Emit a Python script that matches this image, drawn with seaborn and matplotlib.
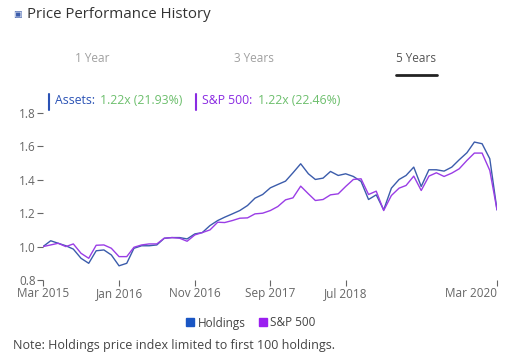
import pandas as pd
import seaborn as sns
import matplotlib.pyplot as plt
from matplotlib.lines import Line2D

# monthly index values, Mar 2015 -> Mar 2020
months = pd.date_range('2015-03-01', '2020-03-01', freq='MS')
holdings = [1.00, 1.035, 1.02, 1.005, 0.985, 0.93, 0.90, 0.975, 0.98, 0.95,
            0.885, 0.90, 0.99, 1.005, 1.005, 1.01, 1.05, 1.054, 1.054, 1.046,
            1.076, 1.084, 1.126, 1.156, 1.176, 1.196, 1.216, 1.246, 1.29, 1.312,
            1.352, 1.372, 1.392, 1.442, 1.496, 1.436, 1.402, 1.41, 1.45, 1.426,
            1.436, 1.42, 1.39, 1.282, 1.31, 1.22, 1.35, 1.402, 1.426, 1.476,
            1.36, 1.46, 1.46, 1.452, 1.476, 1.52, 1.562, 1.626, 1.616, 1.526,
            1.22]
sp500 = [1.00, 1.01, 1.02, 1.00, 1.016, 0.96, 0.93, 1.008, 1.01, 0.99,
         0.94, 0.94, 0.996, 1.01, 1.016, 1.016, 1.05, 1.054, 1.05, 1.032,
         1.07, 1.084, 1.10, 1.146, 1.144, 1.156, 1.17, 1.172, 1.196, 1.20,
         1.216, 1.24, 1.28, 1.292, 1.362, 1.316, 1.276, 1.282, 1.31, 1.316,
         1.36, 1.402, 1.406, 1.312, 1.332, 1.216, 1.306, 1.35, 1.366, 1.422,
         1.336, 1.422, 1.442, 1.42, 1.44, 1.466, 1.516, 1.56, 1.56, 1.456,
         1.22]
tick_dates = ['2015-03-01', '2016-01-01', '2016-11-01', '2017-09-01', '2018-07-01', '2020-03-01']
tick_labels = ['Mar 2015', 'Jan 2016', 'Nov 2016', 'Sep 2017', 'Jul 2018', 'Mar 2020']
tabs = ['1 Year', '3 Years', '5 Years']

df = pd.DataFrame({'date': list(months) * 2,
                   'value': holdings + sp500,
                   'series': ['Holdings'] * len(months) + ['S&P 500'] * len(months)})

sns.set_style('white')
plt.rcParams['font.family'] = ['Open Sans', 'DejaVu Sans']

line_colors = {'Holdings': '#3b5cab', 'S&P 500': '#9a3de6'}
grey = '#666666'

fig = plt.figure(figsize=(5.14, 3.63), dpi=100)
ax = fig.add_axes([43 / 514, 1 - 280 / 363, 454 / 514, 167 / 363])
sns.lineplot(data=df, x='date', y='value', hue='series', palette=line_colors,
             linewidth=1.0, legend=False, ax=ax)

ax.set_ylim(0.8, 1.8)
ax.set_yticks([0.8, 1.0, 1.2, 1.4, 1.6, 1.8])
ax.set_yticklabels(['0.8', '1.0', '1.2', '1.4', '1.6', '1.8'])
ax.set_xlim(months[0], months[-1])
ax.set_xticks(pd.to_datetime(tick_dates))
ax.set_xticklabels(tick_labels)
ax.get_xticklabels()[-1].set_horizontalalignment('right')
ax.set_xlabel('')
ax.set_ylabel('')
for s in ax.spines.values():
    s.set_visible(False)
ax.tick_params(axis='both', which='both', colors=grey, labelsize=8.5,
               length=4, width=0.8, direction='out')
ax.tick_params(axis='x', pad=1)
ax.tick_params(axis='y', pad=1)
ax.xaxis.set_tick_params(bottom=True)
ax.yaxis.set_tick_params(left=True)

# title
fig.text(13 / 514, 1 - 14 / 363, '\u25a3', fontsize=6.5, color='#3b5cab',
         family='DejaVu Sans', va='center', ha='left')
fig.text(27 / 514, 1 - 14 / 363, 'Price Performance History', fontsize=10.8,
         color='#333333', va='center', ha='left')

# period tabs
for name, xpos in zip(tabs, [92, 254, 416]):
    fig.text(xpos / 514, 1 - 58 / 363, name, fontsize=8.5, ha='center', va='center',
             color='#555555' if name == '5 Years' else '#a0a0a0')
fig.add_artist(Line2D([396 / 514, 437 / 514], [1 - 75 / 363] * 2, color='#222222', lw=2))

# header legend
fig.add_artist(Line2D([49 / 514] * 2, [1 - 94 / 363, 1 - 110 / 363], color='#2a52b5', lw=1.5))
fig.add_artist(Line2D([196 / 514] * 2, [1 - 94 / 363, 1 - 110 / 363], color='#8a2be2', lw=1.5))
fig.text(55 / 514, 1 - 101 / 363, 'Assets:', fontsize=8.8, color='#2a52b5', va='center')
fig.text(100 / 514, 1 - 101 / 363, '1.22x (21.93%)', fontsize=8.8, color='#6dbf6d', va='center')
fig.text(202 / 514, 1 - 101 / 363, 'S&P 500:', fontsize=8.8, color='#8a2be2', va='center')
fig.text(258 / 514, 1 - 101 / 363, '1.22x (22.46%)', fontsize=8.8, color='#6dbf6d', va='center')

# bottom legend
handles = [Line2D([], [], marker='s', ls='', color='#1a56c4', markersize=6),
           Line2D([], [], marker='s', ls='', color='#9b1ff0', markersize=6)]
fig.legend(handles, ['Holdings', 'S&P 500'], loc='center', bbox_to_anchor=(250 / 514, 1 - 323 / 363),
           ncol=2, frameon=False, fontsize=8.5, handletextpad=0.1, columnspacing=1.0,
           handlelength=1.0, labelcolor='#444444')

fig.text(13 / 514, 1 - 346 / 363, 'Note: Holdings price index limited to first 100 holdings.',
         fontsize=9, color='#444444', va='center', ha='left')

fig.savefig('out.png', dpi=100)
